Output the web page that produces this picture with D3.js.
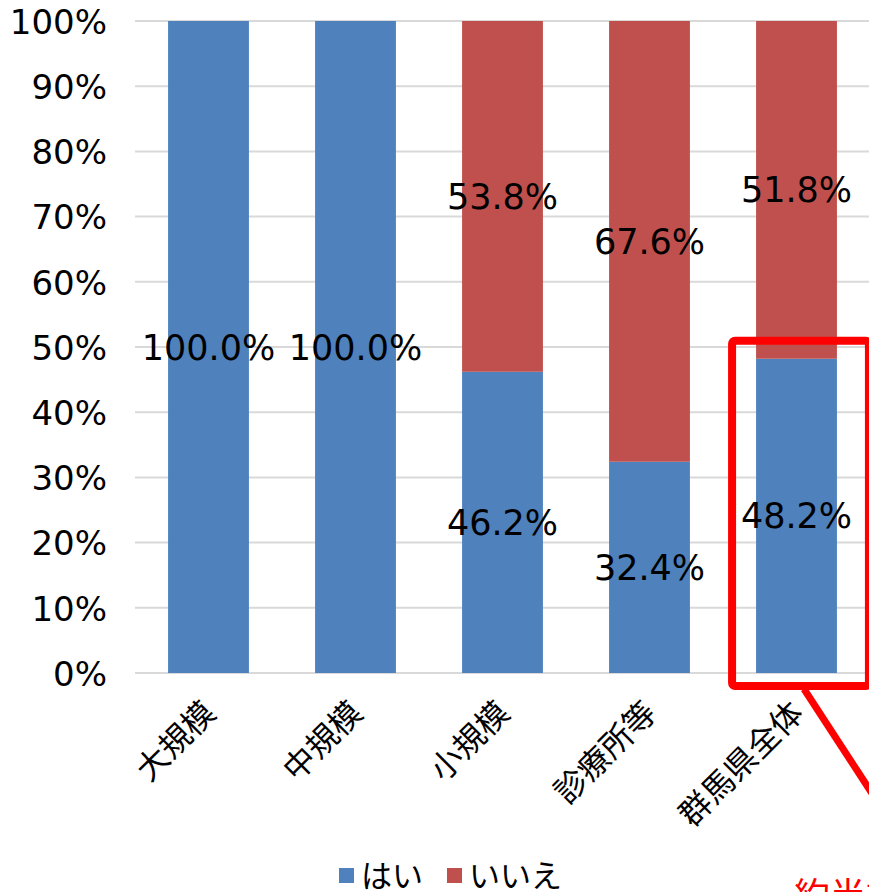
<!DOCTYPE html>
<html>
<head>
<meta charset="utf-8">
<script src="https://cdn.jsdelivr.net/npm/d3@7/dist/d3.min.js"></script>
<style>
  html, body { margin: 0; padding: 0; background: #fff; }
  svg { display: block; }
  text { font-family: "DejaVu Sans", "Noto Sans CJK JP", sans-serif; fill: #000; }
</style>
</head>
<body>
<svg id="chart" width="869" height="892"></svg>
<script>
// Categories and series (percent)
const categories = ["大規模", "中規模", "小規模", "診療所等", "群馬県全体"];
const yesValues = [100.0, 100.0, 46.2, 32.4, 48.2];
const noValues = [0.0, 0.0, 53.8, 67.6, 51.8];
const seriesNames = ["はい", "いいえ"];
const seriesColors = ["#4F81BD", "#C0504D"];
const yTicks = [0, 10, 20, 30, 40, 50, 60, 70, 80, 90, 100];
const highlightCategory = "群馬県全体";
const calloutText = "約半数";

const numFont = "'DejaVu Sans', 'Noto Sans CJK JP', sans-serif";
const jpFont = "'Noto Sans CJK JP', sans-serif";

const svg = d3.select("#chart");

const x = d3.scaleBand()
  .domain(categories)
  .range([135, 870])
  .paddingInner(0.45)
  .paddingOuter(0.225);

const y = d3.scaleLinear().domain([0, 100]).range([673, 21]);

// Gridlines
svg.append("g")
  .selectAll("line")
  .data(yTicks)
  .join("line")
  .attr("x1", 135)
  .attr("x2", 869)
  .attr("y1", d => y(d))
  .attr("y2", d => y(d))
  .attr("stroke", "#D9D9D9")
  .attr("stroke-width", 2);

// Y axis tick labels
const yAxis = d3.axisLeft(y)
  .tickValues(yTicks)
  .tickSize(0)
  .tickPadding(0)
  .tickFormat(d => d + "%");
const yg = svg.append("g").attr("transform", "translate(107,0)").call(yAxis);
yg.select(".domain").remove();
yg.selectAll("text")
  .attr("font-size", 34)
  .attr("font-family", numFont)
  .attr("fill", "#000")
  .attr("dy", "0.36em");

// Stacked data
const rows = categories.map((c, i) => ({ cat: c, yes: yesValues[i], no: noValues[i] }));
const stack = d3.stack().keys(["yes", "no"]);
const layers = stack(rows);

const layerG = svg.append("g")
  .selectAll("g")
  .data(layers)
  .join("g")
  .attr("fill", (d, i) => seriesColors[i]);

layerG.selectAll("rect")
  .data(d => d)
  .join("rect")
  .attr("x", d => x(d.data.cat))
  .attr("width", x.bandwidth())
  .attr("y", d => y(d[1]))
  .attr("height", d => y(d[0]) - y(d[1]));

// Value labels centred in each segment
const labelG = svg.append("g");
layers.forEach(layer => {
  layer.forEach(d => {
    const v = d[1] - d[0];
    if (v <= 0) return;
    labelG.append("text")
      .attr("x", x(d.data.cat) + x.bandwidth() / 2)
      .attr("y", y((d[0] + d[1]) / 2))
      .attr("dy", "0.36em")
      .attr("text-anchor", "middle")
      .attr("font-size", 35)
      .attr("font-family", numFont)
      .text(v.toFixed(1) + "%");
  });
});

// Category labels, rotated
svg.append("g")
  .selectAll("text")
  .data(categories)
  .join("text")
  .attr("transform", d => `translate(${x(d) + x.bandwidth() / 2 + 9},715) rotate(-45)`)
  .attr("text-anchor", "end")
  .attr("font-size", 32)
  .attr("font-family", jpFont)
  .text(d => d);

// Legend
const legend = svg.append("g");
const legendX = [339, 447];
seriesNames.forEach((name, i) => {
  legend.append("rect")
    .attr("x", legendX[i])
    .attr("y", 868)
    .attr("width", 15)
    .attr("height", 15)
    .attr("fill", seriesColors[i]);
  legend.append("text")
    .attr("x", legendX[i] + 22)
    .attr("y", 876)
    .attr("dy", "0.36em")
    .attr("font-size", 31)
    .attr("font-family", jpFont)
    .text(name);
});

// Highlight box around the prefecture-wide bar, with callout
const hx0 = x(highlightCategory) - 24;
const hx1 = x(highlightCategory) + x.bandwidth() + 32;
const hy0 = y(yesValues[categories.indexOf(highlightCategory)]) - 18;
const hy1 = y(0) + 13;
const callout = svg.append("g");
callout.append("rect")
  .attr("x", hx0)
  .attr("y", hy0)
  .attr("width", hx1 - hx0)
  .attr("height", hy1 - hy0)
  .attr("rx", 3)
  .attr("fill", "none")
  .attr("stroke", "#FF0000")
  .attr("stroke-width", 8);
callout.append("line")
  .attr("x1", 804)
  .attr("y1", hy1 + 3)
  .attr("x2", 890)
  .attr("y2", hy1 + 135)
  .attr("stroke", "#FF0000")
  .attr("stroke-width", 7);
callout.append("text")
  .attr("x", 794)
  .attr("y", 909)
  .attr("font-size", 36)
  .attr("font-family", jpFont)
  .style("fill", "#FF0000")
  .text(calloutText);
</script>
</body>
</html>
